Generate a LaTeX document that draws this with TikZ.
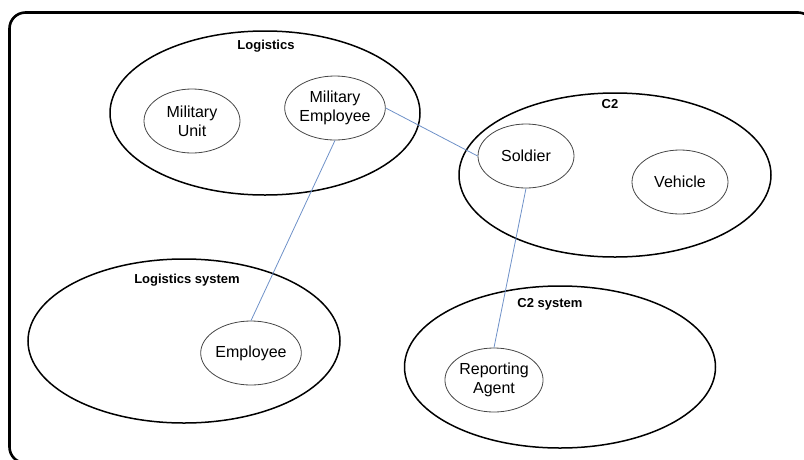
\documentclass[tikz,border=0pt]{standalone}
\usepackage{fontspec}
\setmainfont{Liberation Sans}
\usetikzlibrary{shapes.geometric}
\definecolor{linkblue}{RGB}{110,145,200}
\definecolor{innergray}{RGB}{70,70,70}
\tikzset{
  domainell/.style={draw=black, line width=1.5pt, ellipse, inner sep=0pt},
  concept/.style={draw=innergray, line width=0.8pt, ellipse, inner sep=0pt,
    minimum width=96pt, minimum height=64pt, align=center,
    font=\fontsize{16}{19}\selectfont},
  dlabel/.style={font=\fontsize{13}{15}\selectfont\bfseries, inner sep=0pt},
  link/.style={draw=linkblue, line width=0.8pt}
}
\begin{document}
\begin{tikzpicture}[x=1pt,y=-1pt]
\useasboundingbox (0,0) rectangle (804,459);
\begin{scope}
\clip (0,0) rectangle (804,459);
\draw[line width=2.6pt, rounded corners=16pt] (9.5,12.5) rectangle (814,463);
\end{scope}
% domains
\node[domainell, minimum width=310pt, minimum height=164pt] (log) at (265,113) {};
\node[domainell, minimum width=312pt, minimum height=164pt] (c2) at (615,175) {};
\node[domainell, minimum width=312pt, minimum height=164pt] (logsys) at (184,341) {};
\node[domainell, minimum width=311pt, minimum height=162pt] (c2sys) at (560,367) {};
% domain labels
\node[dlabel] (lLog) at (266,46) {Logistics};
\node[dlabel] (lC2) at (610,104) {C2};
\node[dlabel] (lLogsys) at (187,280) {Logistics system};
\node[dlabel] (lC2sys) at (550,304) {C2 system};
% concepts
\node[concept] (mu) at (192,121) {Military\\Unit};
\node[concept] (me) at (335,108) {Military\\Employee};
\node[concept] (sol) at (526,156) {Soldier};
\node[concept] (veh) at (680,182) {Vehicle};
\node[concept] (emp) at (251,353) {Employee};
\node[concept, minimum width=98pt] (ra) at (494,380) {Reporting\\Agent};
% links
\draw[link] (me.east) -- (sol.west);
\draw[link] (me.south) -- (emp.north);
\draw[link] (sol.south) -- (ra.north);
\end{tikzpicture}
\end{document}
